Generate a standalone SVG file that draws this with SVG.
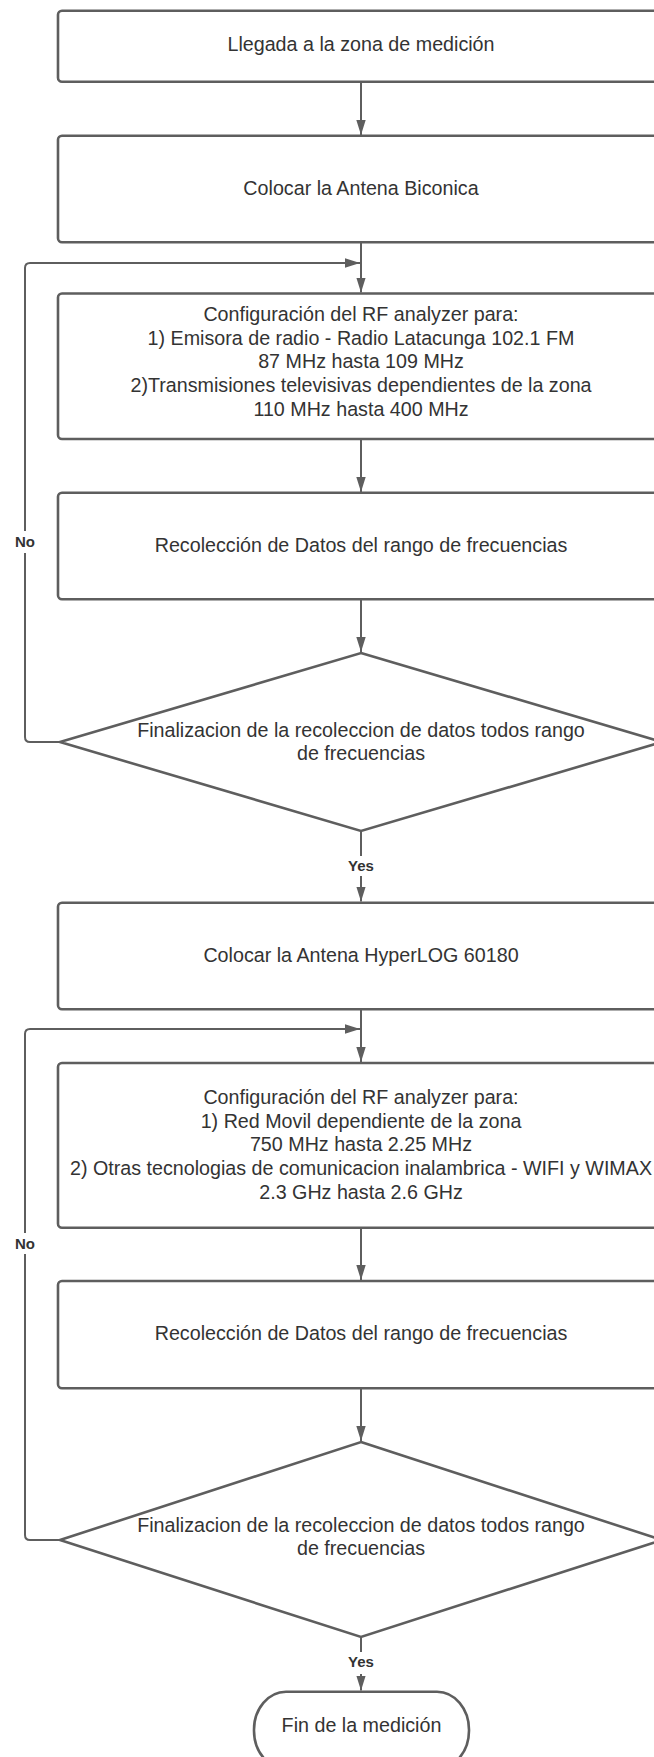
<svg xmlns="http://www.w3.org/2000/svg" width="654" height="1757" viewBox="0 0 654 1757">
<style>
.node{fill:#ffffff;stroke:#5e5e5e;stroke-width:2.6}
.t{font-family:"Liberation Sans",Arial,sans-serif;font-size:19.7px;fill:#333333;text-anchor:middle}
.lbl{font-family:"Liberation Sans",Arial,sans-serif;font-size:15px;font-weight:bold;fill:#333333;text-anchor:middle}
.c{fill:none;stroke:#5e5e5e;stroke-width:2}
</style>
<defs>
<marker id="ah" markerUnits="userSpaceOnUse" markerWidth="16" markerHeight="10" refX="15" refY="4.7" orient="auto">
<path d="M0,0 L15,4.7 L0,9.4 z" fill="#5e5e5e"/>
</marker>
</defs>
<rect width="654" height="1757" fill="#ffffff"/>
<g id="connectors">
<path class="c" d="M361,82 V135" marker-end="url(#ah)"/>
<path class="c" d="M361,243 V292.5" marker-end="url(#ah)"/>
<path class="c" d="M60,742 H30 Q25,742 25,737 V553 M25,531 V268 Q25,263 30,263 H360" marker-end="url(#ah)"/>
<path class="c" d="M361,439 V492" marker-end="url(#ah)"/>
<path class="c" d="M361,599.5 V652" marker-end="url(#ah)"/>
<path class="c" d="M361,831 V856 M361,876 V901.5" marker-end="url(#ah)"/>
<path class="c" d="M361,1010 V1062" marker-end="url(#ah)"/>
<path class="c" d="M60,1540 H30 Q25,1540 25,1535 V1254 M25,1233 V1034 Q25,1029 30,1029 H360" marker-end="url(#ah)"/>
<path class="c" d="M361,1228 V1280" marker-end="url(#ah)"/>
<path class="c" d="M361,1388.5 V1441" marker-end="url(#ah)"/>
<path class="c" d="M361,1637 V1652 M361,1674 V1690.5" marker-end="url(#ah)"/>
<text class="lbl" x="25" y="547">No</text>
<text class="lbl" x="25" y="1249">No</text>
<text class="lbl" x="361" y="870.5">Yes</text>
<text class="lbl" x="361" y="1667">Yes</text>
</g>
<g id="n1">
<rect class="node" x="58" y="10.7" width="606" height="71" rx="4"/>
<text class="t" x="361" y="50.5">Llegada a la zona de medición</text>
</g>
<g id="n2">
<rect class="node" x="58" y="135.7" width="606" height="106.6" rx="4"/>
<text class="t" x="361" y="195">Colocar la Antena Biconica</text>
</g>
<g id="n3">
<rect class="node" x="58" y="293.5" width="606" height="145.5" rx="4"/>
<text class="t" x="361" y="321">Configuración del RF analyzer para:</text>
<text class="t" x="361" y="344.7">1) Emisora de radio - Radio Latacunga 102.1 FM</text>
<text class="t" x="361" y="368.4">87 MHz hasta 109 MHz</text>
<text class="t" x="361" y="392.1">2)Transmisiones televisivas dependientes de la zona</text>
<text class="t" x="361" y="415.8">110 MHz hasta 400 MHz</text>
</g>
<g id="n4">
<rect class="node" x="58" y="492.7" width="606" height="106.6" rx="4"/>
<text class="t" x="361" y="551.5">Recolección de Datos del rango de frecuencias</text>
</g>
<g id="d1">
<polygon class="node" points="361,653 662,742 361,831 60,742"/>
<text class="t" x="361" y="736.7">Finalizacion de la recoleccion de datos todos rango</text>
<text class="t" x="361" y="760.2">de frecuencias</text>
</g>
<g id="n5">
<rect class="node" x="58" y="902.7" width="606" height="106.6" rx="4"/>
<text class="t" x="361" y="961.7">Colocar la Antena HyperLOG 60180</text>
</g>
<g id="n6">
<rect class="node" x="58" y="1063" width="606" height="164.7" rx="4"/>
<text class="t" x="361" y="1104">Configuración del RF analyzer para:</text>
<text class="t" x="361" y="1127.7">1) Red Movil dependiente de la zona</text>
<text class="t" x="361" y="1151.4">750 MHz hasta 2.25 MHz</text>
<text class="t" x="361" y="1175.1">2) Otras tecnologias de comunicacion inalambrica - WIFI y WIMAX</text>
<text class="t" x="361" y="1198.8">2.3 GHz hasta 2.6 GHz</text>
</g>
<g id="n7">
<rect class="node" x="58" y="1281" width="606" height="107.3" rx="4"/>
<text class="t" x="361" y="1339.5">Recolección de Datos del rango de frecuencias</text>
</g>
<g id="d2">
<polygon class="node" points="361,1442 662,1540 361,1637 60,1540"/>
<text class="t" x="361" y="1531.7">Finalizacion de la recoleccion de datos todos rango</text>
<text class="t" x="361" y="1555.2">de frecuencias</text>
</g>
<g id="end">
<rect class="node" x="254" y="1691.7" width="215" height="77" rx="32" ry="38"/>
<text class="t" x="361.5" y="1731.7">Fin de la medición</text>
</g>
</svg>
